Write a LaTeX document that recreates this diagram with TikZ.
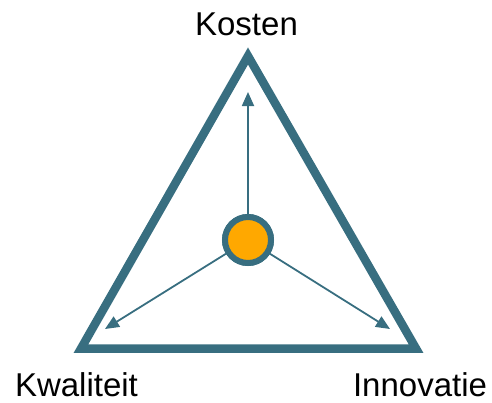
\documentclass[tikz,border=0pt]{standalone}
\usepackage{fontspec}
\setmainfont{Liberation Sans}
\usetikzlibrary{arrows.meta}
\definecolor{teal1}{HTML}{386E80}
\definecolor{orng}{HTML}{FFA800}
\begin{document}
\begin{tikzpicture}[x=1pt,y=-1pt,
  frame/.style={draw=teal1,line width=8.5pt,line join=miter},
  hub/.style={circle,draw=teal1,fill=orng,line width=6pt,minimum size=46pt,inner sep=0pt},
  spoke/.style={draw=teal1,line width=1.8pt,-{Triangle[length=14pt,width=12pt]}},
  lbl/.style={font=\fontsize{33}{36}\selectfont,anchor=base,inner sep=0pt}]
\useasboundingbox (0,0) rectangle (492,402);
\coordinate (A) at (248,56);
\coordinate (B) at (81,348.5);
\coordinate (C) at (416,348.5);
\draw[frame] (A) -- (B) -- (C) -- cycle;
\coordinate (tK) at (248,92);
\coordinate (tQ) at (105,329);
\coordinate (tI) at (390,329);
\node[hub] (hub) at (248,240) {};
\draw[spoke] (hub) -- (tK);
\draw[spoke] (hub) -- (tQ);
\draw[spoke] (hub) -- (tI);
\node[hub] at (hub) {};
\node[lbl] (kosten) at (246.5,35) {Kosten};
\node[lbl] (kwal) at (76.5,396) {Kwaliteit};
\node[lbl] (innov) at (420,396) {Innovatie};
\end{tikzpicture}
\end{document}
